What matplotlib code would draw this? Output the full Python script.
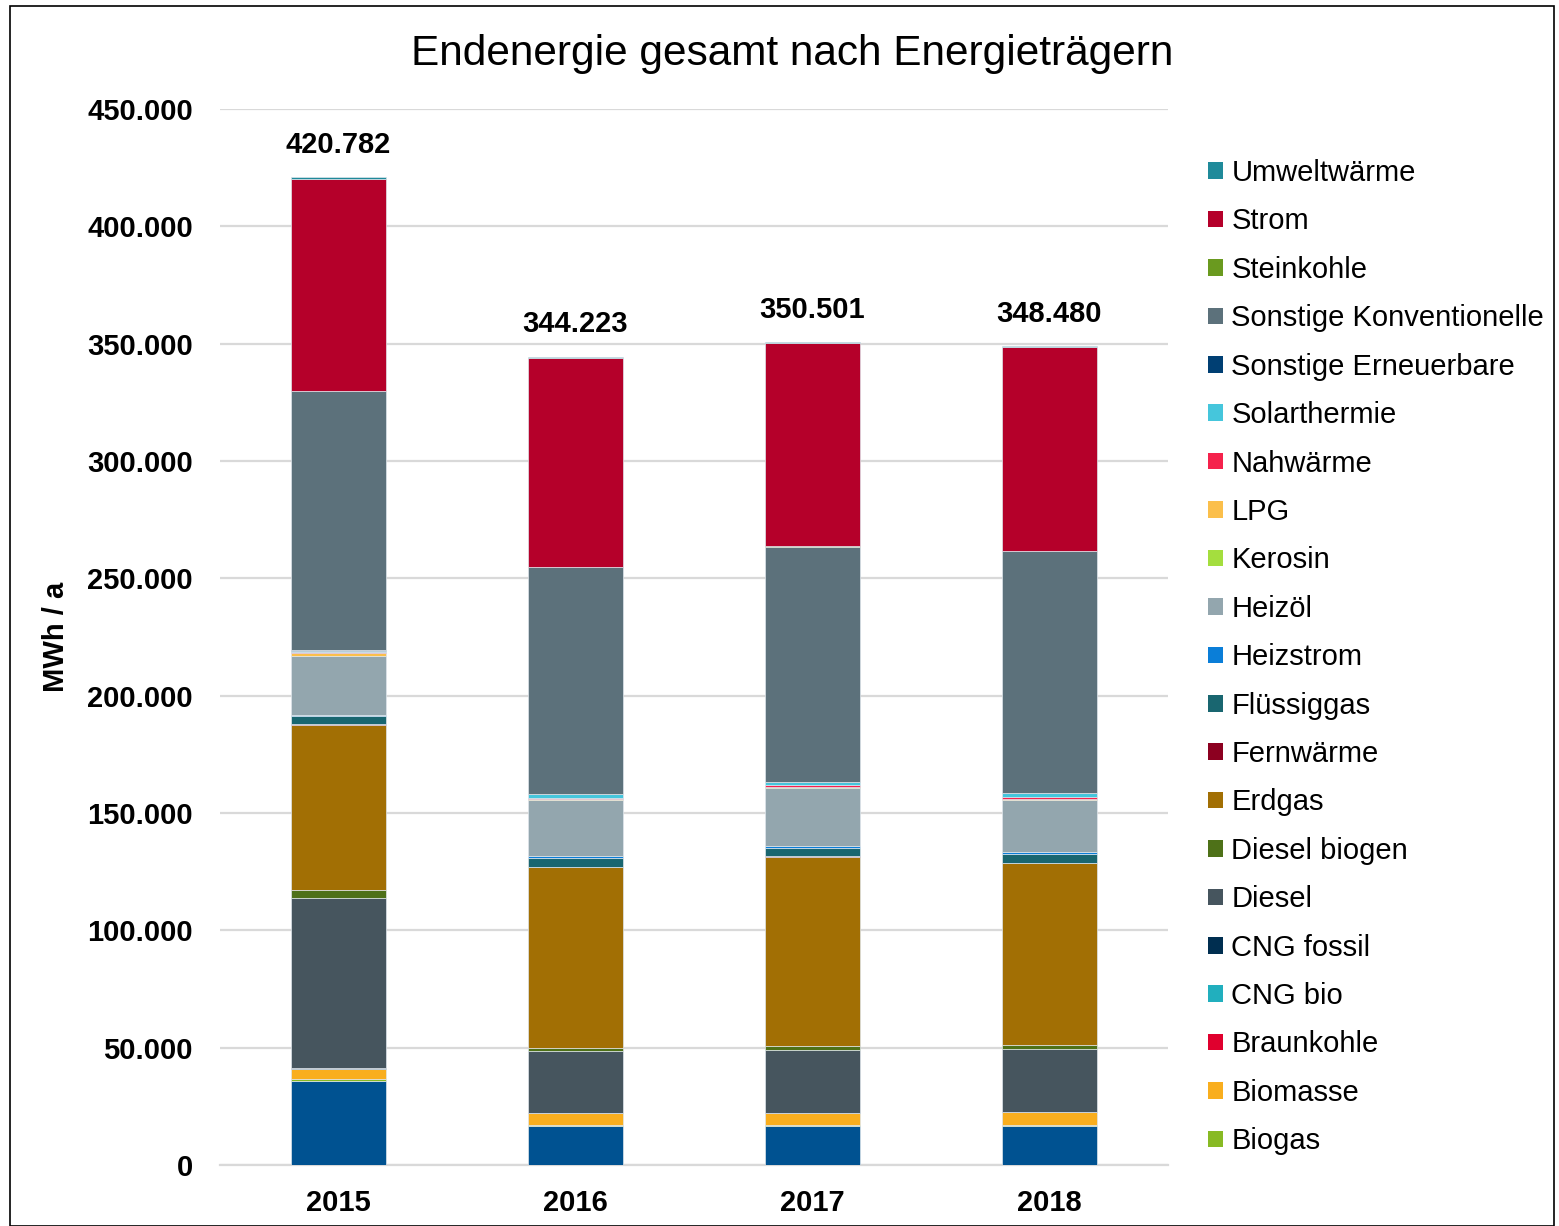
import matplotlib.pyplot as plt
from matplotlib.patches import Rectangle, Patch

plt.rcParams['font.family'] = ['Liberation Sans', 'DejaVu Sans']

years = ['2015', '2016', '2017', '2018']

# stacking order bottom -> top (MWh/a)
carriers = ['Benzin', 'Biogas', 'Biomasse', 'Braunkohle', 'CNG bio', 'CNG fossil',
            'Diesel', 'Diesel biogen', 'Erdgas', 'Fernwärme', 'Flüssiggas',
            'Heizstrom', 'Heizöl', 'Kerosin', 'LPG', 'Nahwärme', 'Solarthermie',
            'Sonstige Erneuerbare', 'Sonstige Konventionelle', 'Steinkohle',
            'Strom', 'Umweltwärme']

benzin = [36000, 16750, 16750, 16750]
biogas = [600, 500, 500, 500]
biomasse = [4300, 4700, 4800, 5300]
braunkohle = [100, 50, 50, 50]
cng_bio = [100, 50, 50, 50]
cng_fossil = [100, 50, 50, 50]
diesel = [72400, 26550, 26850, 26600]
diesel_biogen = [3800, 1300, 1700, 1700]
erdgas = [70300, 77100, 80700, 77800]
fernwaerme = [100, 100, 100, 100]
fluessiggas = [3400, 3800, 3700, 3800]
heizstrom = [500, 600, 600, 600]
heizoel = [25100, 24000, 25000, 22300]
kerosin = [100, 50, 50, 50]
lpg = [1300, 400, 300, 500]
nahwaerme = [300, 400, 800, 500]
solarthermie = [700, 1700, 1300, 1900]
sonst_ern = [200, 100, 100, 100]
sonst_konv = [110300, 96600, 100100, 102800]
steinkohle = [300, 200, 100, 100]
strom = [90300, 89100, 86700, 87000]
umweltwaerme = [582, 123, 251, 280]

totals = [420782, 344223, 350501, 348480]

values = [benzin, biogas, biomasse, braunkohle, cng_bio, cng_fossil, diesel,
          diesel_biogen, erdgas, fernwaerme, fluessiggas, heizstrom, heizoel,
          kerosin, lpg, nahwaerme, solarthermie, sonst_ern, sonst_konv,
          steinkohle, strom, umweltwaerme]

colors = ['#005291', '#88BA24', '#F9AE1E', '#E0002E', '#21AFBE', '#002E50',
          '#46555E', '#4E7118', '#A26F04', '#8C0020', '#196670', '#0A7ED8',
          '#93A6AE', '#A4DE3E', '#FBBF4B', '#F5224C', '#45C6DC', '#003F73',
          '#5C717B', '#6A9A1F', '#B5002A', '#1F8A9A']

fig = plt.figure(figsize=(15.59, 12.26), dpi=100)
ax = fig.add_axes([220 / 1559, 61 / 1226, 948 / 1559, 1056 / 1226])

x = list(range(len(years)))
bottom = [0] * len(years)
for name, vals, col in zip(carriers, values, colors):
    ax.bar(x, vals, width=0.4, bottom=bottom, color=col,
           edgecolor='#dfe6ec', linewidth=0.5, zorder=3)
    bottom = [b + v for b, v in zip(bottom, vals)]

for xi, t in zip(x, totals):
    ax.text(xi, t + 8000, f"{t:,}".replace(',', '.'), ha='center', va='bottom',
            fontsize=21, fontweight='bold')

ax.set_xlim(-0.5, 3.5)
ax.set_ylim(0, 450000)
yt = list(range(0, 450001, 50000))
ax.set_yticks(yt)
ax.set_yticklabels([f"{v:,}".replace(',', '.') for v in yt], fontsize=21, fontweight='bold')
ax.set_xticks(x)
ax.set_xticklabels(years, fontsize=21, fontweight='bold')
ax.tick_params(axis='both', length=0)
ax.tick_params(axis='y', pad=19.5)
ax.tick_params(axis='x', pad=17)
ax.grid(axis='y', color='#D9D9D9', linewidth=1.6, zorder=0)
for s in ['left', 'right', 'top']:
    ax.spines[s].set_visible(False)
ax.spines['bottom'].set_color('#D9D9D9')
ax.spines['bottom'].set_linewidth(1.6)

ax.set_ylabel('MWh / a', fontsize=21, fontweight='bold', labelpad=12)

fig.text(792 / 1559, 1 - 54 / 1226, 'Endenergie gesamt nach Energieträgern',
         ha='center', va='center', fontsize=30.5)

# legend (Benzin not listed in the original legend)
handles = [Patch(facecolor=c, label=n) for n, c in zip(carriers, colors) if n != 'Benzin']
handles = handles[::-1]
fig.legend(handles=handles, loc='upper left', bbox_to_anchor=(1208 / 1559, 1 - 159 / 1226),
           frameon=False, fontsize=21, handlelength=0.5, handleheight=0.5,
           handletextpad=0.3, labelspacing=0.70, borderpad=0, borderaxespad=0)

# outer border
fig.patches.append(Rectangle((10 / 1559, 0), 1544 / 1559, 1 - 6 / 1226,
                             transform=fig.transFigure, fill=False,
                             edgecolor='black', linewidth=1.2))

fig.savefig('out.png', dpi=100)
